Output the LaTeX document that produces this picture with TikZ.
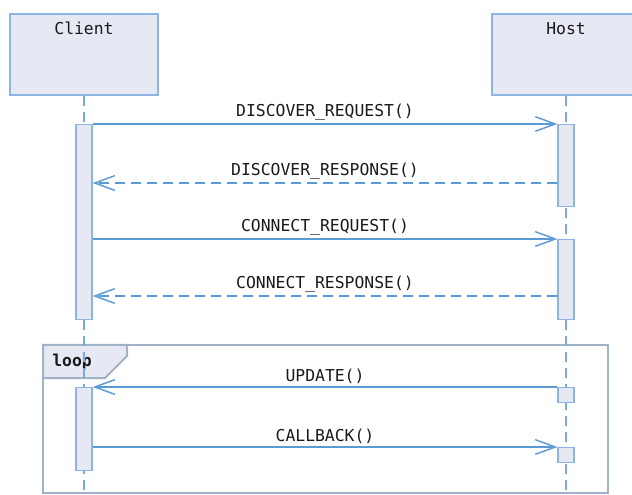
\documentclass[tikz,border=0pt]{standalone}
\usepackage{fontspec}
\setmonofont{DejaVu Sans Mono}
\usetikzlibrary{arrows.meta}
\definecolor{seqline}{RGB}{91,155,213}
\definecolor{seqlife}{RGB}{120,172,222}
\definecolor{seqedge}{RGB}{141,180,226}
\definecolor{seqfill}{RGB}{230,232,244}
\definecolor{seqframe}{RGB}{160,178,200}
\definecolor{seqtext}{RGB}{25,25,25}
\begin{document}
\begin{tikzpicture}[x=0.75pt,y=-0.75pt,
 seqfont/.style={font=\ttfamily\fontsize{12.3}{14}\selectfont,text=seqtext},
 head/.style={draw=seqedge,fill=seqfill,line width=1.2pt,minimum width=111pt,minimum height=60.75pt,inner sep=0pt},
 bar/.style={draw=seqedge,fill=seqfill,line width=1pt,minimum width=12pt,inner sep=0pt,anchor=north},
 life/.style={draw=seqlife,line width=0.8pt,dash pattern=on 7.5pt off 4.5pt},
 call/.style={draw=seqline,line width=1.1pt,-{Straight Barb[length=15pt,width=11pt]}},
 reply/.style={call,dash pattern=on 7.5pt off 4.5pt},
 msg/.style={seqfont,above,inner sep=2pt},
 frame/.style={draw=seqframe,line width=1.5pt}]
 \clip (0,0) rectangle (632,495);
 \node[head,label={[seqfont,anchor=north,inner sep=0pt,yshift=-6.5pt]north:Client}] (client) at (84,54.5) {};
 \node[head,label={[seqfont,anchor=north,inner sep=0pt,yshift=-6.5pt]north:Host}] (host) at (566,54.5) {};
 % loop frame
 \draw[frame] (43,345) rectangle (608,493);
 \draw[frame,fill=seqfill] (43,345) -- (127,345) -- (127,356) -- (105,378) -- (43,378) -- cycle;
 \node[seqfont,font=\ttfamily\bfseries\fontsize{12.3}{14}\selectfont,anchor=base west,inner sep=0pt] (loop) at (52,367) {loop};
 \draw[life] (client.south) -- (client.south |- 0,495);
 \draw[life] (host.south) -- (host.south |- 0,495);
 \node[bar,minimum height=146.25pt] (cb1) at (84,124) {};
 \node[bar,minimum height=61.5pt] (hb1) at (566,124) {};
 \node[bar,minimum height=60pt] (hb2) at (566,239) {};
 \node[bar,minimum height=62.25pt] (cb2) at (84,387) {};
 \node[bar,minimum height=11.25pt] (hb3) at (566,387) {};
 \node[bar,minimum height=11.25pt] (hb4) at (566,447) {};
 \draw[call] (cb1.north east) -- node[msg]{DISCOVER\_REQUEST()} (hb1.north west);
 \draw[reply] (hb1.west |- 0,183) -- node[msg]{DISCOVER\_RESPONSE()} (cb1.east |- 0,183);
 \draw[call] (cb1.east |- hb2.north) -- node[msg]{CONNECT\_REQUEST()} (hb2.north west);
 \draw[reply] (hb2.west |- 0,296) -- node[msg]{CONNECT\_RESPONSE()} (cb1.east |- 0,296);
 \draw[call] (hb3.north west) -- node[msg]{UPDATE()} (cb2.north east);
 \draw[call] (cb2.east |- hb4.north) -- node[msg]{CALLBACK()} (hb4.north west);
\end{tikzpicture}
\end{document}
